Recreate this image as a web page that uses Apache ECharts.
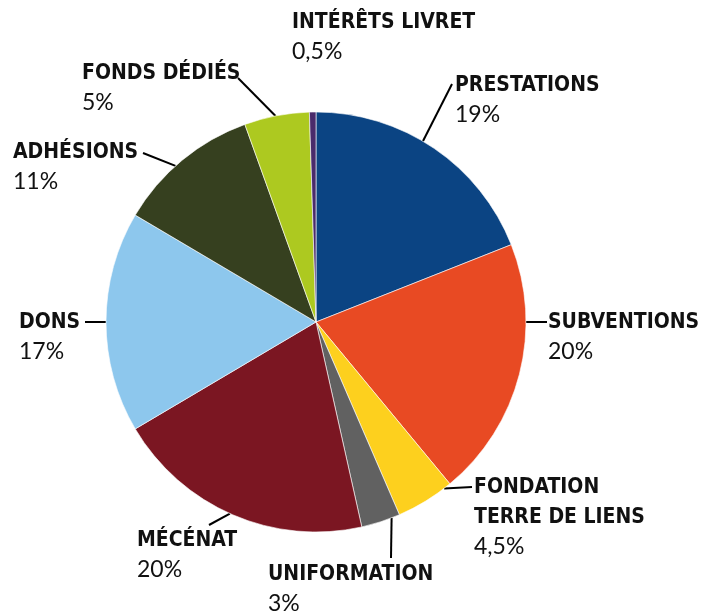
<!DOCTYPE html>
<html>
<head>
<meta charset="utf-8">
<script src="https://cdn.jsdelivr.net/npm/echarts@6/dist/echarts.min.js"></script>
<style>
  html, body { margin: 0; padding: 0; background: #fff; }
  #chart { width: 703px; height: 616px; }
</style>
</head>
<body>
<div id="chart"></div>
<script>
// ressources, dans l'ordre horaire depuis midi
var categories = ['PRESTATIONS', 'SUBVENTIONS', 'FONDATION\nTERRE DE LIENS', 'UNIFORMATION',
  'MÉCÉNAT', 'DONS', 'ADHÉSIONS', 'FONDS DÉDIÉS', 'INTÉRÊTS LIVRET']
var values = [19, 20, 4.5, 3, 20, 17, 11, 5, 0.5]
var colors = ['#0b4483', '#e84a23', '#fdd01e', '#616161', '#7b1622',
  '#8dc7ed', '#36401f', '#adc920', '#4a2b6b']

// mise en page du camembert
var CX = 316, CY = 322, R = 210

// coin haut-gauche de chaque étiquette
var labelPos = [
  [455, 71], [548, 308], [474, 473], [268, 560], [137, 526],
  [19, 308], [13, 138], [82, 59], [292, 8]
]
// trait de rappel : angle de départ sur le bord (degrés depuis midi, sens horaire) et point d'arrivée
var lineAngle = [30.6, 90, 142.4, 158.9, 204.2, 270, 318, 348.9, null]
var lineEnd = [[452, 84], [547, 322], [472, 487], [391, 558], [209, 525],
  [85, 322], [143, 153], [238, 78], null]

var chart = echarts.init(document.getElementById('chart'))

var data = categories.map(function(name, i) {
  return {
    name: name,
    value: values[i],
    itemStyle: { color: colors[i] },
    labelLine: { show: lineAngle[i] != null }
  }
})

chart.setOption({
  backgroundColor: '#fff',
  animation: false,
  series: [
    {
      type: 'pie',
      center: [CX, CY],
      radius: R,
      startAngle: 90,
      clockwise: true,
      avoidLabelOverlap: false,
      itemStyle: {
        borderColor: '#fff',
        borderWidth: 0.6
      },
      label: {
        show: true,
        position: 'outside',
        formatter: function(p) {
          var lines = p.name.split('\n').map(function(s) { return '{n|' + s + '}' })
          var pct = String(p.value).replace('.', ',') + '%'
          return lines.join('\n') + '\n{p|' + pct + '}'
        },
        rich: {
          n: {
            fontFamily: 'DejaVu Sans Condensed',
            fontWeight: 'bold',
            fontSize: 21,
            color: '#111',
            lineHeight: 30
          },
          p: {
            fontFamily: 'Lato',
            fontSize: 23,
            color: '#111',
            lineHeight: 28
          }
        }
      },
      labelLine: {
        show: true,
        smooth: false,
        lineStyle: { color: '#000', width: 2 }
      },
      labelLayout: function(params) {
        var i = params.dataIndex
        var out = {
          x: labelPos[i][0],
          y: labelPos[i][1],
          align: 'left',
          verticalAlign: 'top'
        }
        if (lineAngle[i] != null) {
          var a = lineAngle[i] * Math.PI / 180
          var start = [CX + R * Math.sin(a), CY - R * Math.cos(a)]
          out.labelLinePoints = [start, lineEnd[i], lineEnd[i]]
        }
        return out
      },
      data: data
    }
  ]
})
</script>
</body>
</html>
